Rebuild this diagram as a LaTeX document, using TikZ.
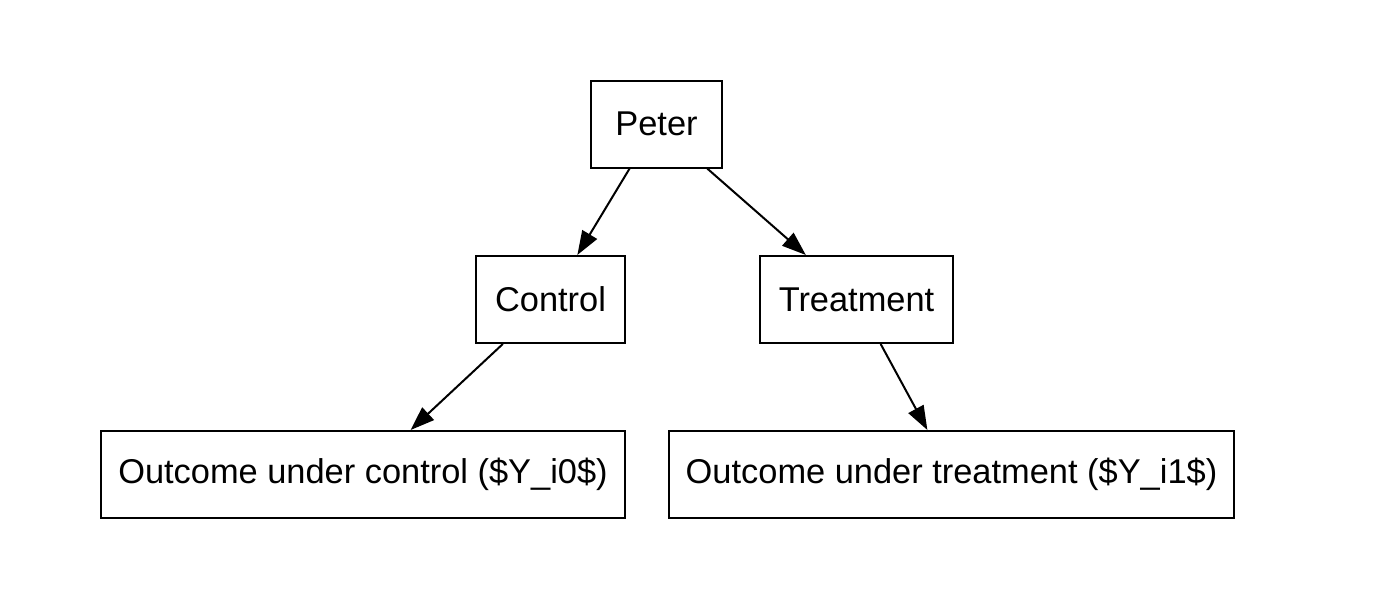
\documentclass[tikz,border=0pt]{standalone}
\usepackage{fontspec}
\setmainfont{Liberation Sans}
\usetikzlibrary{arrows.meta}
\begin{document}
\begin{tikzpicture}[x=0.5pt,y=-0.5pt,
  box/.style={draw,line width=1pt,minimum height=43.5pt,inner sep=0pt,font=\fontsize{17.2}{20}\selectfont},
  edge/.style={line width=1pt,-{Triangle[length=12pt,width=8.5pt]}}]
\useasboundingbox (0,0) rectangle (1382,594);
\node[box,minimum width=65.5pt] (peter) at (656.5,124) {Peter};
\node[box,minimum width=74.5pt] (control) at (550.5,299.5) {Control};
\node[box,minimum width=96.5pt] (treat) at (856.5,299.5) {Treatment};
\node[box,minimum width=262pt] (oc) at (363,474.5) {Outcome under control (\$Y\_i0\$)};
\node[box,minimum width=282.5pt] (ot) at (951.5,474.5) {Outcome under treatment (\$Y\_i1\$)};
\draw[edge] (peter) -- (control);
\draw[edge] (peter) -- (treat);
\draw[edge] (control) -- (oc);
\draw[edge] (treat) -- (ot);
\end{tikzpicture}
\end{document}
